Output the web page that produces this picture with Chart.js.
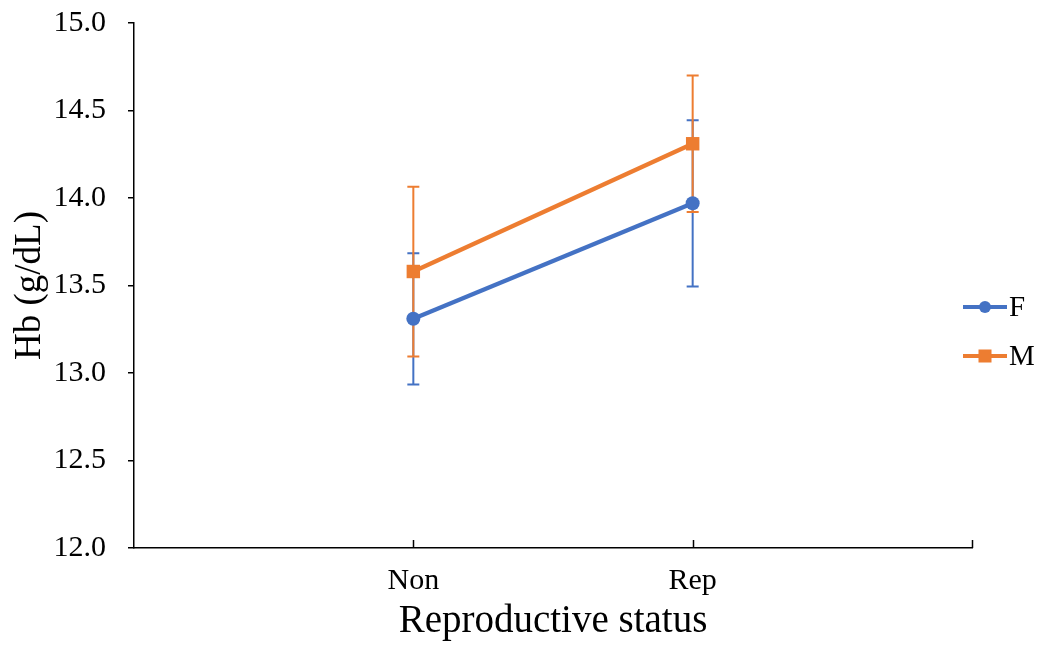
<!DOCTYPE html>
<html>
<head>
<meta charset="utf-8">
<script src="https://cdn.jsdelivr.net/npm/chart.js@4.4.1/dist/chart.umd.min.js"></script>
<style>
  html, body { margin: 0; padding: 0; background: #fff; }
  #wrap { width: 1041px; height: 646px; position: relative; }
</style>
</head>
<body>
<div id="wrap"><canvas id="c" width="1041" height="646"></canvas></div>
<script>
// Haemoglobin by reproductive status and sex (mean ± error)
const categories = ['Non', 'Rep'];
const seriesNames = ['F', 'M'];
const femaleMeans = [13.31, 13.97];
const femaleErrors = [0.375, 0.475];
const maleMeans = [13.58, 14.31];
const maleErrors = [0.485, 0.39];
const yTicks = [12.0, 12.5, 13.0, 13.5, 14.0, 14.5, 15.0];

const BLUE = '#4472C4';
const ORANGE = '#ED7D31';
const FONT = "'Liberation Serif', 'Times New Roman', serif";

// categories sit at x = 1, 2 on a 0..3 axis
const toPoints = (means, errs) => means.map((v, i) => ({ x: i + 1, y: v, err: errs[i] }));

// error bars, painted under the lines and markers
const errorBars = {
  id: 'errorBars',
  beforeDatasetsDraw(chart) {
    const ctx = chart.ctx;
    const xs = chart.scales.x, ys = chart.scales.y;
    chart.data.datasets.forEach(ds => {
      ctx.save();
      ctx.strokeStyle = ds.borderColor;
      ctx.lineWidth = 2;
      ds.data.forEach(p => {
        const x = xs.getPixelForValue(p.x);
        const yTop = ys.getPixelForValue(p.y + p.err);
        const yBot = ys.getPixelForValue(p.y - p.err);
        ctx.beginPath();
        ctx.moveTo(x, yTop); ctx.lineTo(x, yBot);
        ctx.moveTo(x - 6, yTop); ctx.lineTo(x + 6, yTop);
        ctx.moveTo(x - 6, yBot); ctx.lineTo(x + 6, yBot);
        ctx.stroke();
      });
      ctx.restore();
    });
  }
};

// inward tick marks on the category axis, and the legend at the right
const extras = {
  id: 'extras',
  afterDraw(chart) {
    const ctx = chart.ctx;
    const xs = chart.scales.x;
    const base = chart.chartArea.bottom;
    ctx.save();
    ctx.strokeStyle = '#000';
    ctx.lineWidth = 1.5;
    [1, 2, 3].forEach(v => {
      const x = Math.round(xs.getPixelForValue(v)) + 0.5;
      ctx.beginPath();
      ctx.moveTo(x, base);
      ctx.lineTo(x, base - 8);
      ctx.stroke();
    });
    // legend
    const rows = [307, 356];
    chart.data.datasets.forEach((ds, i) => {
      const y = rows[i];
      ctx.strokeStyle = ds.borderColor;
      ctx.lineWidth = 4;
      ctx.beginPath();
      ctx.moveTo(963, y);
      ctx.lineTo(1007, y);
      ctx.stroke();
      ctx.fillStyle = ds.borderColor;
      if (ds.pointStyle === 'rect') {
        ctx.fillRect(985 - 6.5, y - 6.5, 13, 13);
      } else {
        ctx.beginPath();
        ctx.arc(985, y, 6, 0, Math.PI * 2);
        ctx.fill();
      }
      ctx.fillStyle = '#000';
      ctx.font = '29px ' + FONT;
      ctx.textBaseline = 'middle';
      ctx.textAlign = 'left';
      ctx.fillText(ds.label, 1009, y + 1);
    });
    ctx.restore();
  }
};

new Chart(document.getElementById('c'), {
  type: 'line',
  data: {
    datasets: [
      {
        label: seriesNames[0],
        data: toPoints(femaleMeans, femaleErrors),
        borderColor: BLUE,
        backgroundColor: BLUE,
        borderWidth: 4.2,
        pointStyle: 'circle',
        pointRadius: 7,
        pointBorderWidth: 0,
        pointBackgroundColor: BLUE
      },
      {
        label: seriesNames[1],
        data: toPoints(maleMeans, maleErrors),
        borderColor: ORANGE,
        backgroundColor: ORANGE,
        borderWidth: 4.2,
        pointStyle: 'rect',
        pointRadius: 9.5,
        pointBorderWidth: 0,
        pointBackgroundColor: ORANGE
      }
    ]
  },
  options: {
    responsive: false,
    animation: false,
    events: [],
    layout: { padding: { top: 23, right: 69, bottom: 0, left: 0 } },
    plugins: { legend: { display: false }, tooltip: { enabled: false } },
    scales: {
      x: {
        type: 'linear',
        min: 0,
        max: 3,
        afterFit(scale) { scale.height = 98; scale.paddingLeft = 0; scale.paddingRight = 0; },
        afterBuildTicks(scale) { scale.ticks = [1, 2].map(v => ({ value: v })); },
        grid: { display: true, drawOnChartArea: false, drawTicks: false, color: '#000' },
        border: { display: true, color: '#000', width: 1.5 },
        ticks: {
          padding: 15,
          color: '#000',
          font: { family: FONT, size: 30 },
          maxRotation: 0,
          autoSkip: false,
          callback: v => categories[v - 1] ?? ''
        },
        title: {
          display: true,
          text: 'Reproductive status',
          color: '#000',
          font: { family: FONT, size: 39 },
          padding: { top: 0, bottom: 1 }
        }
      },
      y: {
        min: yTicks[0],
        max: yTicks[yTicks.length - 1],
        afterFit(scale) { scale.width = 134; scale.paddingTop = 0; scale.paddingBottom = 0; },
        afterBuildTicks(scale) { scale.ticks = yTicks.map(v => ({ value: v })); },
        grid: { display: true, drawOnChartArea: false, drawTicks: true, tickLength: 6, color: '#000', lineWidth: 1.5 },
        border: { display: true, color: '#000', width: 1.5 },
        ticks: {
          padding: 22,
          color: '#000',
          font: { family: FONT, size: 30 },
          callback: v => Number(v).toFixed(1)
        },
        title: {
          display: true,
          text: 'Hb (g/dL)',
          color: '#000',
          font: { family: FONT, size: 37 },
          padding: { top: 8, bottom: 0 }
        }
      }
    }
  },
  plugins: [errorBars, extras]
});
</script>
</body>
</html>
